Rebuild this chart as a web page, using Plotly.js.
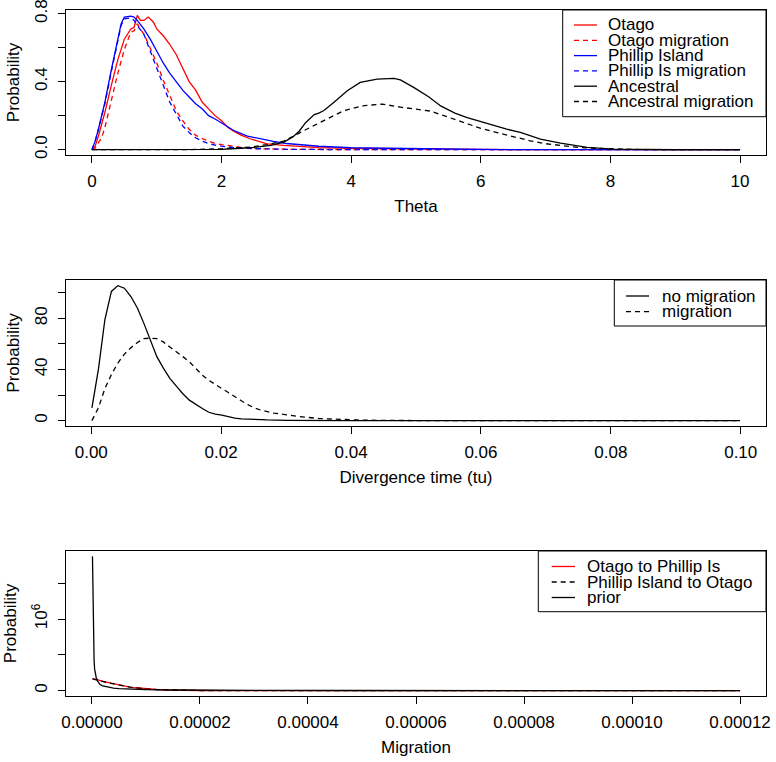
<!DOCTYPE html>
<html>
<head>
<meta charset="utf-8">
<script src="https://cdn.plot.ly/plotly-3.0.1.min.js"></script>
<style>html,body{margin:0;padding:0;background:#fff;}#chart{width:776px;height:762px;}</style>
</head>
<body>
<div id="chart"></div>
<script>
// ---------- Panel 1: Theta ----------
const otagoX = [0, 0.05, 0.1, 0.15, 0.2, 0.3, 0.4, 0.5, 0.6, 0.65, 0.7, 0.75, 0.8, 0.87, 0.95, 1.0, 1.1, 1.2, 1.3, 1.4, 1.5, 1.6, 1.7, 1.8, 1.9, 2.0, 2.1, 2.2, 2.3, 2.44, 2.6, 2.7, 2.96, 3.2, 3.5, 4.0, 5.0, 6.0, 7.0, 10.0];
const otagoY = [0, 0.02, 0.08, 0.15, 0.22, 0.38, 0.53, 0.65, 0.71, 0.72, 0.79, 0.76, 0.76, 0.78, 0.75, 0.71, 0.67, 0.62, 0.56, 0.48, 0.40, 0.35, 0.28, 0.24, 0.20, 0.17, 0.13, 0.105, 0.085, 0.064, 0.045, 0.034, 0.025, 0.018, 0.012, 0.007, 0.003, 0.001, 0, 0];
const otagoMigX = [0, 0.05, 0.1, 0.15, 0.2, 0.3, 0.4, 0.5, 0.6, 0.65, 0.7, 0.75, 0.8, 0.85, 0.9, 1.0, 1.1, 1.2, 1.3, 1.4, 1.5, 1.6, 1.7, 1.8, 1.9, 2.0, 2.1, 2.3, 2.5, 3.0, 4.0, 10.0];
const otagoMigY = [0, 0.01, 0.04, 0.07, 0.13, 0.29, 0.45, 0.59, 0.69, 0.70, 0.74, 0.71, 0.68, 0.64, 0.60, 0.51, 0.41, 0.32, 0.23, 0.17, 0.12, 0.085, 0.065, 0.05, 0.037, 0.03, 0.024, 0.013, 0.006, 0.002, 0, 0];
const phillipX = [0, 0.05, 0.1, 0.15, 0.2, 0.3, 0.4, 0.45, 0.5, 0.6, 0.65, 0.7, 0.8, 0.9, 1.0, 1.1, 1.2, 1.3, 1.4, 1.5, 1.6, 1.7, 1.8, 1.9, 2.0, 2.2, 2.4, 2.6, 2.8, 3.0, 3.5, 4.0, 5.0, 6.0, 7.0, 10.0];
const phillipY = [0, 0.05, 0.12, 0.2, 0.28, 0.47, 0.66, 0.74, 0.78, 0.785, 0.78, 0.76, 0.71, 0.65, 0.58, 0.51, 0.45, 0.40, 0.35, 0.31, 0.27, 0.24, 0.20, 0.18, 0.155, 0.11, 0.08, 0.063, 0.048, 0.036, 0.02, 0.011, 0.004, 0.001, 0, 0];
const phillipMigX = [0, 0.05, 0.1, 0.15, 0.2, 0.3, 0.4, 0.45, 0.5, 0.6, 0.65, 0.7, 0.8, 0.9, 0.95, 1.0, 1.1, 1.2, 1.3, 1.4, 1.5, 1.6, 1.7, 1.8, 1.9, 2.0, 2.2, 2.5, 3.0, 4.0, 10.0];
const phillipMigY = [0, 0.05, 0.12, 0.19, 0.27, 0.46, 0.65, 0.73, 0.77, 0.775, 0.76, 0.73, 0.68, 0.58, 0.52, 0.47, 0.37, 0.28, 0.21, 0.14, 0.10, 0.07, 0.05, 0.035, 0.027, 0.02, 0.012, 0.006, 0.002, 0, 0];
const ancX = [0, 1.5, 2.0, 2.3, 2.5, 2.76, 2.96, 3.1, 3.2, 3.3, 3.43, 3.5, 3.58, 3.73, 3.94, 4.14, 4.4, 4.66, 4.76, 4.97, 5.2, 5.38, 5.6, 5.79, 6.0, 6.15, 6.4, 6.61, 6.92, 7.23, 7.64, 8.05, 8.5, 9.0, 10.0];
const ancY = [0, 0, 0.002, 0.008, 0.013, 0.025, 0.044, 0.075, 0.11, 0.16, 0.206, 0.215, 0.23, 0.278, 0.347, 0.396, 0.415, 0.419, 0.41, 0.365, 0.31, 0.257, 0.215, 0.189, 0.165, 0.144, 0.12, 0.101, 0.062, 0.038, 0.013, 0.003, 0.001, 0, 0];
const ancMigX = [0, 1.5, 2.0, 2.45, 2.7, 2.96, 3.27, 3.58, 3.89, 4.2, 4.48, 4.76, 5.0, 5.22, 5.43, 5.74, 6.0, 6.25, 6.5, 6.76, 7.0, 7.27, 7.5, 7.79, 8.2, 8.5, 10.0];
const ancMigY = [0, 0, 0.005, 0.015, 0.03, 0.05, 0.112, 0.171, 0.23, 0.259, 0.268, 0.25, 0.236, 0.227, 0.2, 0.159, 0.125, 0.10, 0.075, 0.052, 0.035, 0.022, 0.013, 0.007, 0.002, 0, 0];
const thetaNames = ["Otago", "Otago migration", "Phillip Island", "Phillip Is migration", "Ancestral", "Ancestral migration"];
const thetaTickVals = [0, 2, 4, 6, 8, 10];
const thetaTickText = ["0", "2", "4", "6", "8", "10"];
const probTickVals1 = [0, 0.2, 0.4, 0.6, 0.8];
const probTickText1 = ["0.0", "", "0.4", "", "0.8"];

// ---------- Panel 2: Divergence time ----------
const divNoMigX = [0.0001, 0.0011, 0.0021, 0.0031, 0.0041, 0.0051, 0.0061, 0.0071, 0.0081, 0.0091, 0.0101, 0.0111, 0.0121, 0.0131, 0.0141, 0.0151, 0.0161, 0.0171, 0.0181, 0.0191, 0.0201, 0.0211, 0.0221, 0.0231, 0.0251, 0.0271, 0.0301, 0.0351, 0.0401, 0.0999];
const divNoMigY = [10, 40, 79, 101, 105.5, 103.5, 97, 88, 76, 63, 50, 41, 33, 27, 21, 16, 12.5, 9.5, 6.5, 5, 4.3, 3, 2, 1.4, 0.8, 0.5, 0.2, 0.05, 0, 0];
const divMigX = [0.0001, 0.0011, 0.0021, 0.0031, 0.0041, 0.0051, 0.0061, 0.0071, 0.0081, 0.0091, 0.0101, 0.0111, 0.0121, 0.0131, 0.0141, 0.0151, 0.0161, 0.0171, 0.0181, 0.0191, 0.0201, 0.0211, 0.0221, 0.0231, 0.0241, 0.0251, 0.0261, 0.0281, 0.0301, 0.0321, 0.0351, 0.0381, 0.0421, 0.0501, 0.0999];
const divMigY = [0, 10, 25, 36, 45, 52, 57, 61, 64, 64.5, 64, 61.5, 57.5, 54, 50, 46, 40.5, 35.5, 31.5, 28, 25, 22, 18.5, 15.5, 12.5, 10, 8.2, 5.8, 4.5, 3.1, 1.6, 1.0, 0.3, 0, 0];
const divNames = ["no migration", "migration"];
const divTickVals = [0, 0.02, 0.04, 0.06, 0.08, 0.10];
const divTickText = ["0.00", "0.02", "0.04", "0.06", "0.08", "0.10"];
const probTickVals2 = [0, 20, 40, 60, 80, 100];
const probTickText2 = ["0", "", "40", "", "80", ""];

// ---------- Panel 3: Migration ----------
const migOtPiX = [1e-7, 1e-6, 2e-6, 3e-6, 4e-6, 5e-6, 6e-6, 7e-6, 8e-6, 9e-6, 1e-5, 1.2e-5, 1.4e-5, 1.6e-5, 1.8e-5, 2e-5, 2.5e-5, 3e-5, 1.2e-4];
const migOtPiY = [167000, 155000, 130000, 112000, 95000, 78000, 63000, 50000, 40000, 32000, 25000, 16000, 9000, 5000, 3000, 1500, 300, 0, 0];
const migPiOtX = [1e-7, 1e-6, 2e-6, 3e-6, 4e-6, 5e-6, 6e-6, 7e-6, 8e-6, 9e-6, 1e-5, 1.2e-5, 1.4e-5, 1.6e-5, 1.8e-5, 2e-5, 2.5e-5, 3e-5, 1.2e-4];
const migPiOtY = [165000, 152000, 128000, 110000, 93000, 77000, 62000, 50000, 40000, 31000, 24000, 15000, 9000, 5000, 2800, 1400, 300, 0, 0];
const priorX = [1e-7, 2e-7, 3e-7, 4e-7, 5e-7, 6e-7, 8e-7, 1e-6, 1.5e-6, 2e-6, 3e-6, 4e-6, 5e-6, 7e-6, 1e-5, 1.5e-5, 2e-5, 3e-5, 5e-5, 8e-5, 1.2e-4];
const priorY = [1875000, 1000000, 600000, 420000, 300000, 240000, 180000, 140000, 85000, 65000, 45000, 35000, 28000, 20000, 14000, 9000, 6000, 4000, 2000, 1000, 500];
const migNames = ["Otago to Phillip Is", "Phillip Island to Otago", "prior"];
const migTickVals = [0, 0.00002, 0.00004, 0.00006, 0.00008, 0.00010, 0.00012];
const migTickText = ["0.00000", "0.00002", "0.00004", "0.00006", "0.00008", "0.00010", "0.00012"];
const probTickVals3 = [0, 500000, 1000000, 1500000];
const probTickText3 = ["0", "", "10<sup>6</sup>", ""];

// ---------- styling ----------
const FONT = "Liberation Sans, Arial, Helvetica, sans-serif";
const FS = 17;
const RED = "#FF0000", BLUE = "#0000FF", BLACK = "#000000";
const DASH = "5px,4px";
const LW = 1.3;

function tr(x, y, name, color, dash, xa, ya) {
  return {x: x, y: y, name: name, type: "scatter", mode: "lines",
          line: {color: color, width: LW, dash: dash}, xaxis: xa, yaxis: ya,
          showlegend: false, hoverinfo: "skip"};
}

const data = [
  tr(otagoX, otagoY, thetaNames[0], RED, "solid", "x", "y"),
  tr(otagoMigX, otagoMigY, thetaNames[1], RED, DASH, "x", "y"),
  tr(phillipX, phillipY, thetaNames[2], BLUE, "solid", "x", "y"),
  tr(phillipMigX, phillipMigY, thetaNames[3], BLUE, DASH, "x", "y"),
  tr(ancX, ancY, thetaNames[4], BLACK, "solid", "x", "y"),
  tr(ancMigX, ancMigY, thetaNames[5], BLACK, DASH, "x", "y"),
  tr(divNoMigX, divNoMigY, divNames[0], BLACK, "solid", "x2", "y2"),
  tr(divMigX, divMigY, divNames[1], BLACK, DASH, "x2", "y2"),
  tr(migOtPiX, migOtPiY, migNames[0], RED, "solid", "x3", "y3"),
  tr(migPiOtX, migPiOtY, migNames[1], BLACK, DASH, "x3", "y3"),
  tr(priorX, priorY, migNames[2], BLACK, "solid", "x3", "y3")
];

// geometry (pixels)
const W = 776, H = 762, ML = 66, MR = 10, MT = 10, MB = 66;
const PW = W - ML - MR, PH = H - MT - MB;
const pxX = p => (p - ML) / PW;
const pxY = p => (H - MB - p) / PH;

function xAxis(range, tv, tt, anchor, title) {
  return {range: range, anchor: anchor, domain: [0, 1], tickmode: "array", tickvals: tv, ticktext: tt,
          ticks: "outside", ticklen: 7, tickwidth: 1, tickcolor: "#000", ticklabelstandoff: 4,
          ticklabeloverflow: "allow",
          showline: true, mirror: true, linecolor: "#000", linewidth: 1,
          showgrid: false, zeroline: false, automargin: false,
          tickfont: {family: FONT, size: FS, color: "#000"},
          title: {text: title, font: {family: FONT, size: FS, color: "#000"}, standoff: 9}};
}
function yAxis(range, tv, tt, anchor, domain) {
  return {range: range, anchor: anchor, domain: domain, tickmode: "array", tickvals: tv, ticktext: tt,
          ticks: "outside", ticklen: 7, tickwidth: 1, tickcolor: "#000", tickangle: -90,
          ticklabelstandoff: 4, ticklabeloverflow: "allow",
          showline: true, mirror: true, linecolor: "#000", linewidth: 1,
          showgrid: false, zeroline: false, automargin: false,
          tickfont: {family: FONT, size: FS, color: "#000"},
          title: {text: "Probability", font: {family: FONT, size: FS, color: "#000"}, standoff: 8}};
}

const shapes = [], annotations = [];
function legend(box, rows, sample, textX, names, colors, dashes) {
  shapes.push({type: "rect", xref: "paper", yref: "paper",
    x0: pxX(box[0]), x1: pxX(box[1]), y0: pxY(box[3]), y1: pxY(box[2]),
    line: {color: "#000", width: 1}, fillcolor: "rgba(255,255,255,1)", layer: "above"});
  names.forEach((n, i) => {
    shapes.push({type: "line", xref: "paper", yref: "paper",
      x0: pxX(sample[0]), x1: pxX(sample[1]), y0: pxY(rows[i]), y1: pxY(rows[i]),
      line: {color: colors[i], width: LW, dash: dashes[i]}, layer: "above"});
    annotations.push({xref: "paper", yref: "paper", x: pxX(textX), y: pxY(rows[i]),
      xanchor: "left", yanchor: "middle", showarrow: false, text: n, borderpad: 0,
      font: {family: FONT, size: FS, color: "#000"}});
  });
}
legend([562.7, 766, 10, 116.7], [25, 40.3, 55.6, 70.9, 86.2, 101.5], [574, 597], 607, thetaNames,
       [RED, RED, BLUE, BLUE, BLACK, BLACK], ["solid", DASH, "solid", DASH, "solid", DASH]);
legend([614.3, 766, 280, 326], [296, 311.7], [626, 649], 660.5, divNames,
       [BLACK, BLACK], ["solid", DASH]);
legend([538.3, 766, 551, 611.7], [566.5, 582, 597.5], [551.7, 575], 585.5, migNames,
       [RED, BLACK, BLACK], ["solid", DASH, "solid"]);

const layout = {
  width: W, height: H, margin: {l: ML, r: MR, t: MT, b: MB},
  paper_bgcolor: "#fff", plot_bgcolor: "#fff", showlegend: false,
  font: {family: FONT, size: FS, color: "#000"},
  xaxis: xAxis([-0.4, 10.4], thetaTickVals, thetaTickText, "y", "Theta"),
  yaxis: yAxis([-0.0316, 0.8216], probTickVals1, probTickText1, "x", [pxY(155), pxY(10)]),
  xaxis2: xAxis([-0.00389, 0.10389], divTickVals, divTickText, "y2", "Divergence time (tu)"),
  yaxis2: yAxis([-4.23, 109.9], probTickVals2, probTickText2, "x2", [pxY(426), pxY(280)]),
  xaxis3: xAxis([-0.0000048, 0.0001248], migTickVals, migTickText, "y3", "Migration"),
  yaxis3: yAxis([-75000, 1950000], probTickVals3, probTickText3, "x3", [pxY(696), pxY(551)]),
  shapes: shapes, annotations: annotations
};

Plotly.newPlot("chart", data, layout, {staticPlot: true, displayModeBar: false});
</script>
</body>
</html>
